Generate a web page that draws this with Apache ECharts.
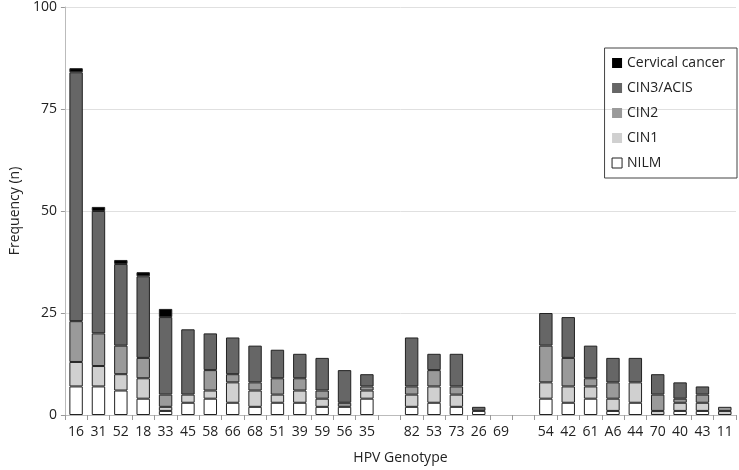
<!DOCTYPE html>
<html>
<head>
<meta charset="utf-8">
<script src="https://cdn.jsdelivr.net/npm/echarts@6/dist/echarts.min.js"></script>
<style>
html,body{margin:0;padding:0;background:#fff;}
#chart{width:739px;height:470px;}
</style>
</head>
<body>
<div id="chart"></div>
<script>
// genotypes, empty strings are the gaps between groups
var genotypes = ["16","31","52","18","33","45","58","66","68","51","39","59","56","35","",
  "82","53","73","26","69","",
  "54","42","61","A6","44","70","40","43","11"];
var nilm   = [7,7,6,4,1,3,4,3,2,3,3,2,2,4,0, 2,3,2,1,0,0, 4,3,4,1,3,0,1,1,0];
var cin1   = [6,5,4,5,1,2,2,5,4,2,3,2,0,2,0, 3,4,3,0,0,0, 4,4,3,3,5,1,2,2,1];
var cin2   = [10,8,7,5,3,0,5,2,2,4,3,2,1,1,0, 2,4,2,0,0,0, 9,7,2,4,0,4,1,2,1];
var cin3   = [61,30,20,20,19,16,9,9,9,7,6,8,8,3,0, 12,4,8,1,0,0, 8,10,8,6,6,5,4,2,0];
var cancer = [1,1,1,1,2,0,0,0,0,0,0,0,0,0,0, 0,0,0,0,0,0, 0,0,0,0,0,0,0,0,0];
var yTicks = [0,25,50,75,100];

var fontName = "Open Sans";
var chart = echarts.init(document.getElementById("chart"));

function mkSeries(name, data, color){
	return {
		name: name,
		type: "bar",
		stack: "total",
		// zero counts are not drawn
		data: data.map(function(v){ return v === 0 ? "-" : v; }),
		barWidth: "60%",
		itemStyle: {color: color, borderColor: "#222", borderWidth: 1},
		emphasis: {disabled: true}
	};
}

var option = {
	animation: false,
	textStyle: {fontFamily: fontName},
	grid: {left: 51, right: 3, top: 7, bottom: 52},
	legend: {
		orient: "vertical",
		right: 2,
		top: 48,
		itemGap: 11,
		itemWidth: 10,
		itemHeight: 10,
		icon: "rect",
		padding: [8, 12, 8, 7],
		borderColor: "#444",
		borderWidth: 1,
		itemStyle: {borderWidth: 0},
		textStyle: {fontFamily: fontName, fontSize: 14, color: "#222"},
		data: [
			{name: "Cervical cancer"},
			{name: "CIN3/ACIS"},
			{name: "CIN2"},
			{name: "CIN1"},
			{name: "NILM", itemStyle: {borderColor: "#222", borderWidth: 1}}
		]
	},
	xAxis: {
		type: "category",
		data: genotypes,
		name: "HPV Genotype",
		nameLocation: "middle",
		nameGap: 36,
		nameTextStyle: {fontSize: 14, color: "#222"},
		axisLine: {lineStyle: {color: "#bbb"}},
		axisTick: {show: true, alignWithLabel: false, length: 5, lineStyle: {color: "#999"}},
		axisLabel: {interval: 0, fontSize: 14, color: "#222", margin: 10}
	},
	yAxis: {
		type: "value",
		min: yTicks[0],
		max: yTicks[yTicks.length - 1],
		interval: 25,
		name: "Frequency (n)",
		nameLocation: "middle",
		nameGap: 36,
		nameTextStyle: {fontSize: 14, color: "#222"},
		axisLine: {show: true, lineStyle: {color: "#bbb"}},
		axisTick: {show: true, length: 4, lineStyle: {color: "#999"}},
		axisLabel: {fontSize: 14, color: "#222", margin: 8},
		splitLine: {lineStyle: {color: "#e0e0e0"}}
	},
	series: [
		mkSeries("NILM", nilm, "#ffffff"),
		mkSeries("CIN1", cin1, "#d0d0d0"),
		mkSeries("CIN2", cin2, "#9a9a9a"),
		mkSeries("CIN3/ACIS", cin3, "#666666"),
		mkSeries("Cervical cancer", cancer, "#000000")
	]
};
chart.setOption(option);
</script>
</body>
</html>
